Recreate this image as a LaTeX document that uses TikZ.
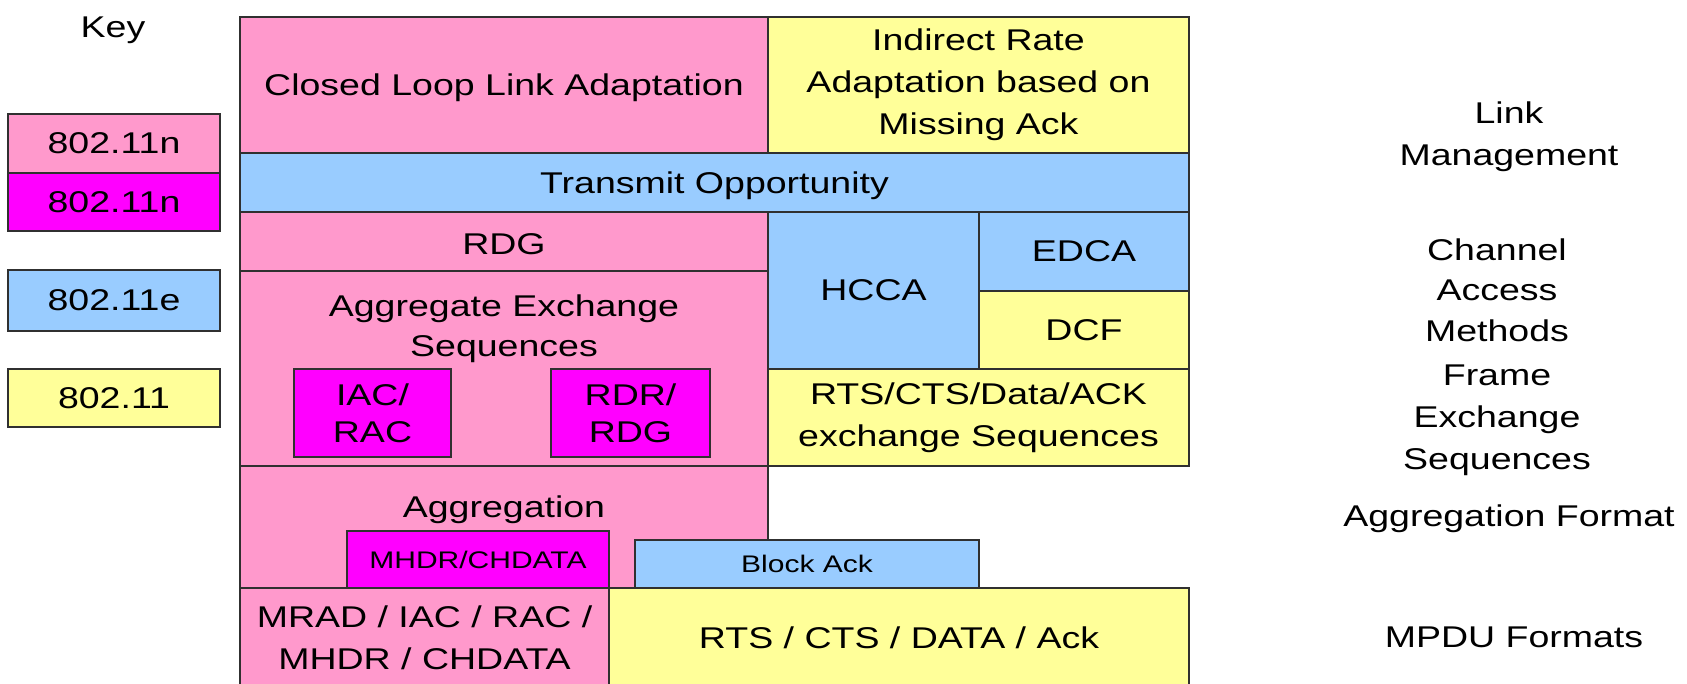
\documentclass[tikz,border=0pt]{standalone}
\usepackage{fontspec}
\setmainfont{Liberation Sans}[FakeStretch=1.25]
\definecolor{cpink}{HTML}{FF99CC}
\definecolor{cmag}{HTML}{FF00FF}
\definecolor{cblue}{HTML}{99CCFF}
\definecolor{cyel}{HTML}{FFFF99}
\definecolor{cedge}{HTML}{303030}
\newcommand\bigfs{\fontsize{30}{42}\selectfont}
\newcommand\blk[8][]{%
  \pgfmathsetmacro\blkw{#5-#3}%
  \pgfmathsetmacro\blkh{#6-#4}%
  \pgfmathsetmacro\blkx{(#3+#5)/2}%
  \pgfmathsetmacro\blky{(#4+#6)/2}%
  \node[blockbox, fill=#7, minimum width=\blkw pt, minimum height=\blkh pt, #1] (#2) at (\blkx,\blky) {#8};}
\begin{document}
\begin{tikzpicture}[x=1pt,y=-1pt,
  blockbox/.style={draw=cedge, line width=1.6pt, inner sep=0pt, align=center, font=\bigfs, text=black},
  lbl/.style={inner sep=0pt, align=center, font=\bigfs, text=black},
  tight/.style={font=\fontsize{30}{37}\selectfont},
  small/.style={font=\fontsize{24}{30}\selectfont}]
\useasboundingbox (0,0) rectangle (1687,683);
\clip (0,0) rectangle (1687,683);
% key
\node[lbl] (key) at (113,30) {Key};
\blk{k1}{8}{114}{220}{173}{cpink}{802.11n}
\blk{k2}{8}{173}{220}{231}{cmag}{802.11n}
\blk{k3}{8}{270}{220}{331}{cblue}{802.11e}
\blk{k4}{8}{369}{220}{427}{cyel}{802.11}
% main stack
\blk[text depth=0pt]{clla}{240}{17}{768}{153}{cpink}{Closed Loop Link Adaptation}
\blk{ira}{768}{17}{1189}{153}{cyel}{Indirect Rate\\Adaptation based on\\Missing Ack}
\blk[text depth=0pt]{txop}{240}{153}{1189}{212}{cblue}{Transmit Opportunity}
\blk[text height=26pt]{rdg}{240}{212}{768}{271}{cpink}{RDG}
\blk{aes}{240}{271}{768}{466}{cpink}{}
\node[lbl, font=\fontsize{30}{40}\selectfont] (aestxt) at (504,329) {Aggregate Exchange\\Sequences};
\blk[tight]{iac}{294}{369}{451}{457}{cmag}{IAC/\\RAC}
\blk[tight]{rdr}{551}{369}{710}{457}{cmag}{RDR/\\RDG}
\blk{hcca}{768}{212}{979}{369}{cblue}{HCCA}
\blk{edca}{979}{212}{1189}{291}{cblue}{EDCA}
\blk{dcf}{979}{291}{1189}{369}{cyel}{DCF}
\blk{rts}{768}{369}{1189}{466}{cyel}{RTS/CTS/Data/ACK\\exchange Sequences}
\blk{agg}{240}{466}{768}{588}{cpink}{}
\node[lbl] (aggtxt) at (504,510) {Aggregation};
\blk[small]{mhdr}{347}{531}{609}{588}{cmag}{MHDR/CHDATA}
\blk[small]{back}{635}{540}{979}{588}{cblue}{Block Ack}
\blk{mrad}{240}{588}{609}{688}{cpink}{MRAD / IAC / RAC /\\MHDR / CHDATA}
\blk{frm}{609}{588}{1189}{688}{cyel}{RTS / CTS / DATA / Ack}
% right labels
\node[lbl] (lm) at (1509,137) {Link\\Management};
\node[lbl, font=\fontsize{30}{40.5}\selectfont] (cam) at (1497,290) {Channel\\Access\\Methods};
\node[lbl] (fes) at (1497,420) {Frame\\Exchange\\Sequences};
\node[lbl] (af) at (1509,519) {Aggregation Format};
\node[lbl] (mf) at (1514,637) {MPDU Formats};
\end{tikzpicture}
\end{document}
